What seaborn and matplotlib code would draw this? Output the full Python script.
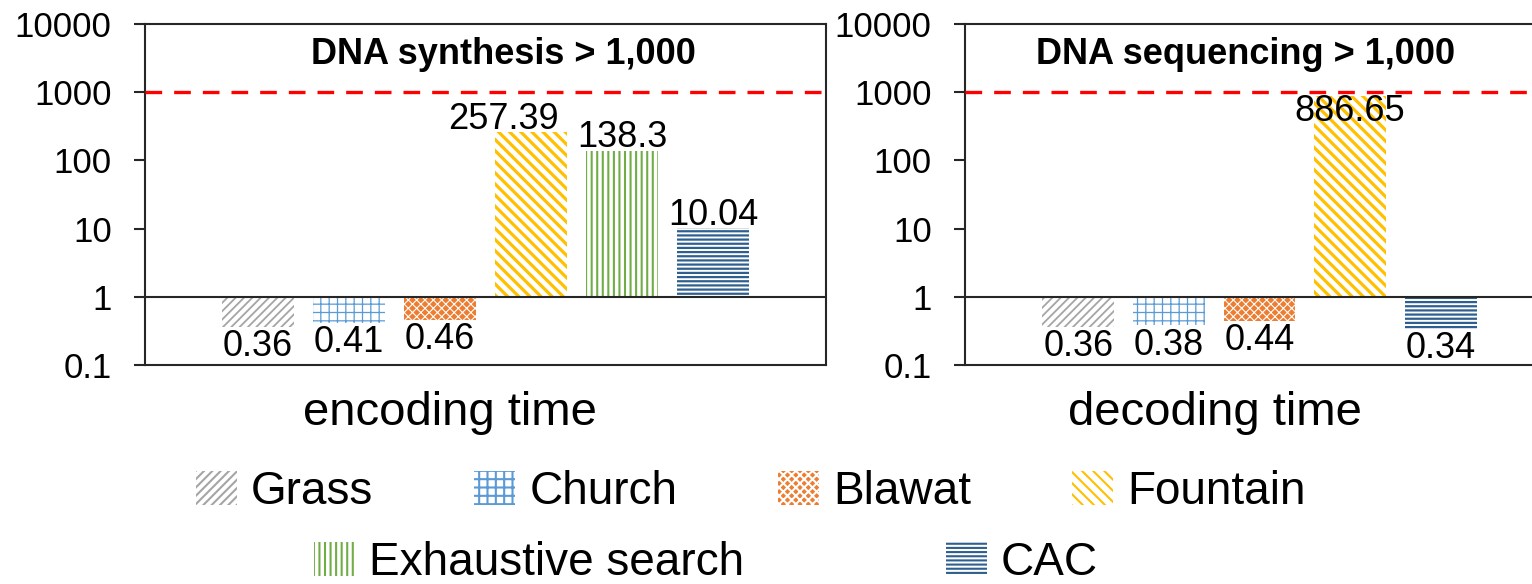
import numpy as np
import pandas as pd
import seaborn as sns
from matplotlib import pyplot as plt
from matplotlib.patches import Patch

'''

Data

'''
methods = ['Grass', 'Church', 'Blawat', 'Fountain', 'Exhaustive search', 'CAC']
encoding_time = [0.36, 0.41, 0.46, 257.39, 138.3, 10.04]

dec_methods = ['Grass', 'Church', 'Blawat', 'Fountain', 'CAC']
decoding_time = [0.36, 0.38, 0.44, 886.65, 0.34]

tick_values = [0.1, 1, 10, 100, 1000, 10000]
tick_labels = ['0.1', '1', '10', '100', '1000', '10000']
limit = 1000

colors = {
    'Grass': '#A5A5A5',
    'Church': '#5B9BD5',
    'Blawat': '#ED7D31',
    'Fountain': '#FFC000',
    'Exhaustive search': '#70AD47',
    'CAC': '#2E5F8E',
}
hatches = {
    'Grass': '////',
    'Church': '++',
    'Blawat': 'xxxx',
    'Fountain': '\\\\\\',
    'Exhaustive search': '|||',
    'CAC': '----',
}
hatch_lw = {
    'Grass': 1.3,
    'Church': 0.9,
    'Blawat': 0.8,
    'Fountain': 2.3,
    'Exhaustive search': 1.5,
    'CAC': 1.6,
}

sns.set_theme(style='white')
plt.rcParams['font.family'] = ['Liberation Sans', 'DejaVu Sans']
plt.rcParams['text.color'] = 'black'
plt.rcParams['ytick.labelcolor'] = 'black'
plt.rcParams['hatch.linewidth'] = 1.5


def style_patch(p, m):
    # Blawat is a filled bar with white cross lines, the rest are hatch only
    if m == 'Blawat':
        p.set_facecolor(colors[m])
        p.set_edgecolor('white')
    else:
        p.set_facecolor('white')
        p.set_edgecolor(colors[m])
    p.set_hatch(hatches[m])
    p.set_linewidth(0)
    if hasattr(p, 'set_hatch_linewidth'):
        p.set_hatch_linewidth(hatch_lw[m])


def draw_panel(ax, names, values, title, title_x, xlabel, xlabel_x, xlim, shift=None):
    shift = shift or {}
    df = pd.DataFrame({'method': names, 'log_time': np.log10(values)})
    sns.barplot(data=df, x='method', y='log_time', hue='method',
                order=names, hue_order=names, palette=colors,
                width=0.79, errorbar=None, legend=False, ax=ax)
    for p in ax.patches:
        i = int(round(p.get_x() + p.get_width() / 2))
        style_patch(p, names[i])

    # value labels
    for i, v in enumerate(values):
        lv = np.log10(v)
        x = i + shift.get(names[i], 0)
        if v < 1:
            ax.text(x, lv - 0.03, str(v), ha='center', va='top', fontsize=26)
        elif v > 500:
            ax.text(x, lv + 0.02, str(v), ha='center', va='top', fontsize=26)
        else:
            ax.text(x, lv + 0.05, str(v), ha='center', va='baseline', fontsize=26)

    ax.axhline(0, color='#262626', lw=1.5, zorder=3)
    ax.axhline(np.log10(limit), color='#FF0000', lw=2.4, dashes=(5, 3.6), zorder=3)

    ax.set_ylim(np.log10(tick_values[0]), np.log10(tick_values[-1]))
    ax.set_xlim(*xlim)
    ax.set_yticks(np.log10(tick_values))
    ax.set_yticklabels(tick_labels)
    ax.set_xticks([])
    ax.set_xlabel('')
    ax.set_ylabel('')
    ax.tick_params(axis='y', left=True, length=8, width=1.5, pad=16,
                   labelsize=25, color='#262626', labelcolor='black', direction='out')
    for s in ax.spines.values():
        s.set_visible(True)
        s.set_color('#262626')
        s.set_linewidth(1.5)

    ax.text(title_x, 3.55, title, ha='center', va='center',
            fontsize=26, fontweight='bold')
    ax.text(xlabel_x, -0.14, xlabel, transform=ax.transAxes,
            ha='center', va='center', fontsize=34)


fig = plt.figure(figsize=(15.32, 5.84), dpi=100)
ax1 = fig.add_axes([145 / 1532, 219 / 584, 681 / 1532, 341 / 584])
ax2 = fig.add_axes([965 / 1532, 219 / 584, 589 / 1532, 341 / 584])

draw_panel(ax1, methods, encoding_time, 'DNA synthesis > 1,000', 2.7,
           'encoding time', 0.448, (-1.24, 6.24), shift={'Fountain': -0.3})
draw_panel(ax2, dec_methods, decoding_time, 'DNA sequencing > 1,000', 1.85,
           'decoding time', 0.424, (-1.25, 5.25))

'''

Legend (two rows like the original)

'''
def make_handle(m):
    h = Patch(label=m)
    style_patch(h, m)
    return h

row1 = [make_handle(m) for m in methods[:4]]
row2 = [make_handle(m) for m in methods[4:]]

leg_kw = dict(frameon=False, fontsize=33, handlelength=0.9, handleheight=0.75,
              handletextpad=0.3, borderpad=0, borderaxespad=0)
fig.legend(handles=row1, loc='center', bbox_to_anchor=(0.490, 0.158),
           ncol=4, columnspacing=2.2, **leg_kw)
fig.legend(handles=row2, loc='center', bbox_to_anchor=(0.461, 0.036),
           ncol=2, columnspacing=4.4, **leg_kw)

plt.savefig('out.png', dpi=100)
plt.close()
